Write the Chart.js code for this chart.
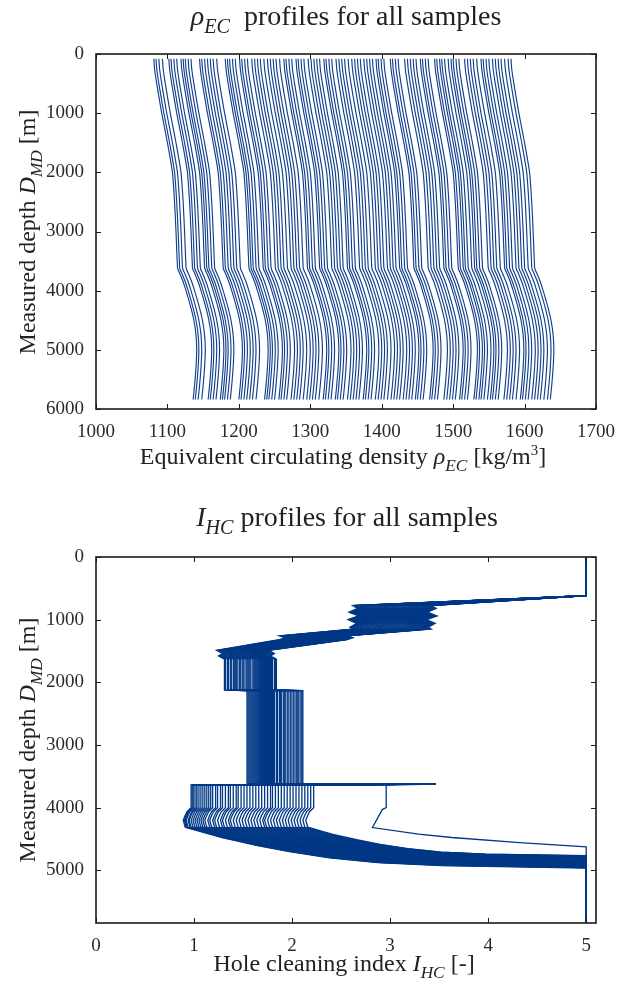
<!DOCTYPE html>
<html>
<head>
<meta charset="utf-8">
<script src="https://cdn.jsdelivr.net/npm/chart.js@4.4.1/dist/chart.umd.min.js"></script>
<style>
  body { margin: 0; background: #fff; }
  #page { position: relative; width: 629px; height: 985px; overflow: hidden; }
  .box { position: absolute; left: 0; width: 629px; }
  .lbl { position: absolute; font-family: 'Liberation Serif', 'DejaVu Serif', serif; color: #222; white-space: nowrap; line-height: 1; }
  .lbl sub { font-size: 0.72em; vertical-align: -0.42em; }
  .lbl sup { font-size: 0.62em; vertical-align: 0.6em; }
  .title { font-size: 28px; transform: translateX(-50%); }
  .xlab { font-size: 24px; transform: translateX(-50%); }
  .ylab { font-size: 24px; transform: translate(-50%, -50%) rotate(-90deg); }
</style>
</head>
<body>
<div id="page">
  <div class="box" style="top:0; height:480px;"><canvas id="ecdChart"></canvas></div>
  <div class="box" style="top:480px; height:505px;"><canvas id="ihcChart"></canvas></div>

  <div class="lbl title" style="left:346px; top:2px;"><i>ρ</i><sub><i>EC</i></sub>&nbsp; profiles for all samples</div>
  <div class="lbl xlab" style="left:343px; top:443px;">Equivalent circulating density <i>ρ</i><sub><i>EC</i></sub> [kg/m<sup>3</sup>]</div>
  <div class="lbl ylab" style="left:30px; top:232px;">Measured depth <i>D</i><sub><i>MD</i></sub> [m]</div>

  <div class="lbl title" style="left:347px; top:503px;"><i>I</i><sub><i>HC</i></sub> profiles for all samples</div>
  <div class="lbl xlab" style="left:344px; top:951px;">Hole cleaning index <i>I</i><sub><i>HC</i></sub> [-]</div>
  <div class="lbl ylab" style="left:30px; top:740px;">Measured depth <i>D</i><sub><i>MD</i></sub> [m]</div>
</div>

<script>
// ---- top chart: ECD profiles ----
// depth grid (m) and the common bend of the profiles (kg/m3 added to surface value)
const ecdDepths = [80, 250, 500, 1000, 1500, 2000, 2500, 3000, 3600, 3650, 3700, 3850, 4000, 4250, 4500, 4750, 5000, 5300, 5600, 5840];
const ecdShift  = [0, 1, 4, 11, 19, 26, 29, 31, 33, 34, 36, 41, 45, 51, 56, 59, 60, 59, 57, 55];
// ECD at the top of each sample profile (read in clusters from the picture)
const ecdSurface = [
  1081, 1084, 1088, 1093,  1102, 1105, 1109, 1113,  1119, 1122, 1125, 1129, 1133,
  1145, 1148, 1152, 1156, 1160, 1164, 1169,  1181, 1184, 1187, 1191, 1195,
  1201, 1204, 1208, 1212,  1218, 1222, 1226, 1230, 1235,  1240, 1244, 1248, 1252, 1257,
  1263, 1266, 1270, 1274,  1280, 1283, 1287, 1291,  1297, 1301, 1305, 1309, 1313,
  1319, 1322, 1326, 1330,  1336, 1340, 1344, 1348, 1353,  1358, 1362, 1366, 1370,
  1375, 1379, 1383, 1387,  1392, 1395, 1399, 1403,  1412, 1415, 1419, 1423,
  1432, 1436, 1440, 1444, 1448,  1454, 1457, 1461, 1465,  1474, 1477, 1481, 1484, 1488,
  1493, 1497, 1500, 1504, 1508,  1516, 1520, 1524, 1528, 1533,  1539, 1542, 1546, 1550,
  1555, 1559, 1563, 1567, 1572,  1577, 1581
];
const ecdTicksX = [1000, 1100, 1200, 1300, 1400, 1500, 1600, 1700];
const ecdTicksY = [0, 1000, 2000, 3000, 4000, 5000, 6000];

// ---- bottom chart: hole cleaning index profiles ----
const ihcCap = 5;
const ihcSpike = 3.46;              // short excursion at ~3625 m
const ihcSectionA = [               // 760-1150 m
  2.62, 2.63, 2.64, 2.65, 2.66, 2.68, 2.69, 2.70, 2.72, 2.73,
  2.75, 2.77, 2.79, 2.80, 2.82, 2.84, 2.86, 2.88, 2.90, 2.92,
  2.93, 2.95, 2.97, 2.99, 3.01, 3.03, 3.05, 3.07, 3.09, 3.11,
  3.13, 3.15, 3.17, 3.18, 3.20, 3.22, 3.23, 3.25, 3.26, 3.28,
  3.29, 3.31, 3.32, 3.34, 3.35, 3.36, 3.37, 3.38, 3.40, 3.42,
  3.39
];
const ihcSectionB = [               // ~1260-1320 m
  1.87, 1.89, 1.90, 1.92, 1.94, 1.95, 1.97, 1.99, 2.00, 2.02,
  2.03, 2.05, 2.06, 2.08, 2.10, 2.11, 2.13, 2.14, 2.16, 2.17,
  2.19, 2.20, 2.22, 2.23, 2.25, 2.26, 2.28, 2.29, 2.31, 2.32,
  2.34, 2.35, 2.37, 2.38, 2.40, 2.41, 2.43, 2.44, 2.46, 2.47,
  2.48, 2.49, 2.50, 2.51, 2.52, 2.53, 2.54, 2.55, 2.55, 2.56,
  2.52
];
const ihcSectionC = [               // 1630-2125 m
  1.31, 1.32, 1.34, 1.35, 1.35, 1.37, 1.38, 1.40, 1.41, 1.42,
  1.43, 1.44, 1.46, 1.47, 1.47, 1.49, 1.50, 1.51, 1.53, 1.54,
  1.55, 1.56, 1.57, 1.58, 1.60, 1.61, 1.62, 1.63, 1.64, 1.65,
  1.66, 1.67, 1.67, 1.68, 1.69, 1.70, 1.71, 1.72, 1.73, 1.73,
  1.74, 1.75, 1.76, 1.77, 1.78, 1.79, 1.80, 1.82, 1.83, 1.84,
  1.76
];
const ihcSectionD = [               // 2130-3618 m
  1.54, 1.55, 1.56, 1.57, 1.58, 1.59, 1.60, 1.61, 1.62, 1.63,
  1.64, 1.65, 1.66, 1.67, 1.67, 1.68, 1.69, 1.70, 1.71, 1.72,
  1.73, 1.74, 1.75, 1.76, 1.77, 1.78, 1.79, 1.80, 1.81, 1.82,
  1.84, 1.85, 1.87, 1.88, 1.89, 1.91, 1.92, 1.93, 1.95, 1.96,
  1.98, 1.99, 2.01, 2.02, 2.04, 2.05, 2.07, 2.09, 2.10, 2.11,
  2.06
];
const ihcSectionE = [               // 3640-4000 m
  0.97, 0.98, 0.99, 1.00, 1.02, 1.03, 1.05, 1.07, 1.09, 1.11,
  1.13, 1.15, 1.17, 1.19, 1.22, 1.24, 1.27, 1.29, 1.32, 1.35,
  1.37, 1.40, 1.43, 1.45, 1.48, 1.51, 1.54, 1.57, 1.60, 1.63,
  1.66, 1.69, 1.72, 1.75, 1.78, 1.80, 1.83, 1.86, 1.89, 1.92,
  1.95, 1.98, 2.01, 2.04, 2.07, 2.10, 2.13, 2.16, 2.19, 2.22,
  2.96
];
const ihcFullDepth = [              // depth where the index is back at the cap
  4963, 4958, 4955, 4950, 4946, 4942, 4938, 4935, 4931, 4927,
  4924, 4920, 4916, 4912, 4908, 4905, 4900, 4896, 4892, 4888,
  4884, 4880, 4876, 4872, 4868, 4864, 4860, 4855, 4851, 4846,
  4842, 4838, 4833, 4829, 4824, 4820, 4815, 4811, 4806, 4802,
  4798, 4794, 4790, 4786, 4782, 4779, 4776, 4773, 4770, 4767,
  4624
];
const ihcWiggleDepths = [820, 880, 940, 1000, 1060, 1120];
const ihcWiggle = [0.05, -0.04, 0.06, -0.05, 0.04, -0.03];
const ihcBendDepths = [4060, 4120, 4200, 4310];
const ihcBendShift = [-0.04, -0.06, -0.08, -0.06];
const ihcRecoveryDepthFrac = [0.25, 0.45, 0.6, 0.75, 0.87, 0.94];
const ihcRecoveryValueFrac = [0.09, 0.18, 0.26, 0.36, 0.48, 0.64];
const ihcOutlierTailDepth = [4030, 4317, 4423, 4476, 4556];
const ihcOutlierTailValue = [2.92, 2.82, 3.29, 3.63, 4.32];
const ihcTicksX = [0, 1, 2, 3, 4, 5];
const ihcTicksY = [0, 1000, 2000, 3000, 4000, 5000];

const LINE_TOP = "#113f8d";
const LINE_BOTTOM = "#003886";
const FONT = "'Liberation Serif', 'DejaVu Serif', serif";

function ihcProfile(i) {
  const a = ihcSectionA[i], b = ihcSectionB[i], c = ihcSectionC[i];
  const d = ihcSectionD[i], e = ihcSectionE[i], full = ihcFullDepth[i];
  const pts = [{ x: ihcCap, y: 0 }, { x: ihcCap, y: 615 }, { x: a, y: 775 }];
  ihcWiggleDepths.forEach((dep, k) => pts.push({ x: a + ihcWiggle[k], y: dep }));
  pts.push({ x: a, y: 1150 });
  pts.push({ x: b, y: 1260 }, { x: b + 0.06, y: 1290 }, { x: b, y: 1320 });
  pts.push({ x: c - 0.08, y: 1490 }, { x: c - 0.02, y: 1540 }, { x: c - 0.06, y: 1580 });
  pts.push({ x: c, y: 1630 }, { x: c, y: 2125 });
  pts.push({ x: d, y: 2131 }, { x: d, y: 3618 }, { x: ihcSpike, y: 3625 });
  pts.push({ x: e, y: 3638 }, { x: e, y: 4000 });
  if (i === ihcSectionE.length - 1) {
    ihcOutlierTailDepth.forEach((dep, k) => pts.push({ x: ihcOutlierTailValue[k], y: dep }));
  } else {
    ihcBendDepths.forEach((dep, k) => pts.push({ x: e + ihcBendShift[k], y: dep }));
    const v0 = e + ihcBendShift[ihcBendShift.length - 1];
    const d0 = ihcBendDepths[ihcBendDepths.length - 1];
    ihcRecoveryDepthFrac.forEach((f, k) => {
      pts.push({ x: v0 + ihcRecoveryValueFrac[k] * (ihcCap - v0), y: d0 + f * (full - d0) });
    });
  }
  pts.push({ x: ihcCap, y: full }, { x: ihcCap, y: 5840 });
  return pts;
}

// frame + inward tick marks on all four sides
const boxTicks = {
  id: "boxTicks",
  afterDatasetsDraw(chart) {
    const { ctx, chartArea: a, scales: { x, y } } = chart;
    ctx.save();
    ctx.strokeStyle = "#1a1a1a";
    ctx.lineWidth = 1;
    ctx.beginPath();
    x.ticks.forEach((t) => {
      const px = Math.round(x.getPixelForValue(t.value)) + 0.5;
      ctx.moveTo(px, a.bottom); ctx.lineTo(px, a.bottom - 5);
      ctx.moveTo(px, a.top); ctx.lineTo(px, a.top + 5);
    });
    y.ticks.forEach((t) => {
      const py = Math.round(y.getPixelForValue(t.value)) + 0.5;
      ctx.moveTo(a.left, py); ctx.lineTo(a.left + 5, py);
      ctx.moveTo(a.right, py); ctx.lineTo(a.right - 5, py);
    });
    ctx.stroke();
    ctx.lineWidth = 1.6;
    ctx.strokeRect(a.left, a.top, a.right - a.left, a.bottom - a.top);
    ctx.restore();
  }
};

function baseOptions(xMin, xMax, xTicks, yMax, yTicks, padTop, xAxisHeight) {
  const tickFont = { family: FONT, size: 19 };
  const plain = (v) => String(v);
  return {
    responsive: true,
    maintainAspectRatio: false,
    animation: false,
    layout: { padding: { top: padTop, right: 33, left: 0, bottom: 0 } },
    plugins: { legend: { display: false }, tooltip: { enabled: false } },
    elements: { point: { radius: 0 } },
    scales: {
      x: {
        type: "linear", min: xMin, max: xMax,
        grid: { display: false }, border: { display: false },
        afterBuildTicks: (s) => { s.ticks = xTicks.map((v) => ({ value: v })); },
        afterFit: (s) => { s.height = xAxisHeight; },
        ticks: { font: tickFont, color: "#2a2a2a", padding: 4, maxRotation: 0, callback: plain }
      },
      y: {
        type: "linear", reverse: true, min: 0, max: yMax,
        grid: { display: false }, border: { display: false },
        afterBuildTicks: (s) => { s.ticks = yTicks.map((v) => ({ value: v })); },
        afterFit: (s) => { s.width = 96; },
        ticks: { font: tickFont, color: "#2a2a2a", padding: 4, callback: plain }
      }
    }
  };
}

new Chart(document.getElementById("ecdChart"), {
  type: "line",
  data: {
    datasets: ecdSurface.map((s) => ({
      data: ecdDepths.map((dep, k) => ({ x: s + ecdShift[k], y: dep })),
      borderColor: LINE_TOP, borderWidth: 1.15, pointRadius: 0, fill: false, tension: 0.2
    }))
  },
  options: baseOptions(1000, 1700, ecdTicksX, 6000, ecdTicksY, 54, 71),
  plugins: [boxTicks]
});

new Chart(document.getElementById("ihcChart"), {
  type: "line",
  data: {
    datasets: ihcSectionE.map((_, i) => ({
      data: ihcProfile(i),
      borderColor: LINE_BOTTOM, borderWidth: 1.3, pointRadius: 0, fill: false, tension: 0
    }))
  },
  options: baseOptions(0, 5.1, ihcTicksX, 5840, ihcTicksY, 77, 62),
  plugins: [boxTicks]
});
</script>
</body>
</html>
